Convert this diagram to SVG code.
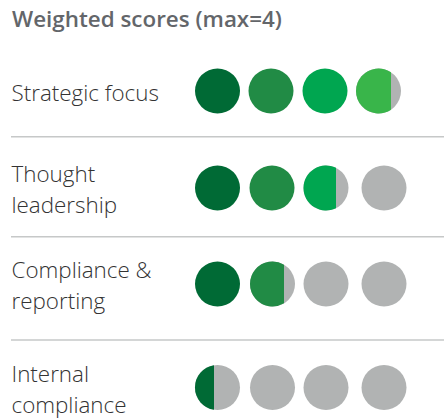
<svg xmlns="http://www.w3.org/2000/svg" width="444" height="420" viewBox="0 0 444 420">
<style>
.title{font-family:"Open Sans","Liberation Sans",sans-serif;font-weight:600;font-size:22.4px;fill:#63666a}
.lbl{font-family:"Open Sans","Liberation Sans",sans-serif;font-weight:300;font-size:22.4px;fill:#333333}
.d1{fill:#006a35}.d2{fill:#218b45}.d3{fill:#00a650}.d4{fill:#39b54a}.g{fill:#b1b3b3}
.sep{stroke:#c6c8c8;stroke-width:1.5}
</style>
<rect width="444" height="420" fill="#ffffff"/>
<text class="title" x="12" y="26.5">Weighted scores (max=4)</text>
<g id="dividers">
<line class="sep" x1="11" y1="136.7" x2="444" y2="136.7"/>
<line class="sep" x1="11" y1="236.7" x2="444" y2="236.7"/>
<line class="sep" x1="11" y1="340" x2="444" y2="340"/>
</g>
<g id="row-strategic-focus">
<text class="lbl" x="11.5" y="101">Strategic focus</text>
<circle class="d1" cx="217.5" cy="91" r="22.5"/>
<circle class="d2" cx="271" cy="91" r="22.5"/>
<circle class="d3" cx="325" cy="91" r="22.5"/>
<circle class="g" cx="378.5" cy="91" r="22.5"/>
<path class="d4" d="M391,72.29 A22.5,22.5 0 1 0 391,109.71 Z"/>
</g>
<g id="row-thought-leadership">
<text class="lbl" x="11.5" y="181.7">Thought</text>
<text class="lbl" x="11.5" y="213.3">leadership</text>
<circle class="d1" cx="217.5" cy="188" r="22.5"/>
<circle class="d2" cx="272" cy="188" r="22.5"/>
<circle class="g" cx="326" cy="188" r="22.5"/>
<path class="d3" d="M336,167.84 A22.5,22.5 0 1 0 336,208.16 Z"/>
<circle class="g" cx="384" cy="188" r="22.5"/>
</g>
<g id="row-compliance-reporting">
<text class="lbl" x="11.5" y="277.5">Compliance &amp;</text>
<text class="lbl" x="11.5" y="309">reporting</text>
<circle class="d1" cx="217.5" cy="284" r="22.5"/>
<circle class="g" cx="272.5" cy="284" r="22.5"/>
<path class="d2" d="M284,264.66 A22.5,22.5 0 1 0 284,303.34 Z"/>
<circle class="g" cx="326" cy="284" r="22.5"/>
<circle class="g" cx="384" cy="284" r="22.5"/>
</g>
<g id="row-internal-compliance">
<text class="lbl" x="11.5" y="381.7">Internal</text>
<text class="lbl" x="11.5" y="413">compliance</text>
<circle class="g" cx="217.5" cy="387.5" r="22.5"/>
<path class="d1" d="M214,365.27 A22.5,22.5 0 0 0 214,409.73 Z"/>
<circle class="g" cx="272.5" cy="387.5" r="22.5"/>
<circle class="g" cx="326" cy="387.5" r="22.5"/>
<circle class="g" cx="384" cy="387.5" r="22.5"/>
</g>
</svg>
